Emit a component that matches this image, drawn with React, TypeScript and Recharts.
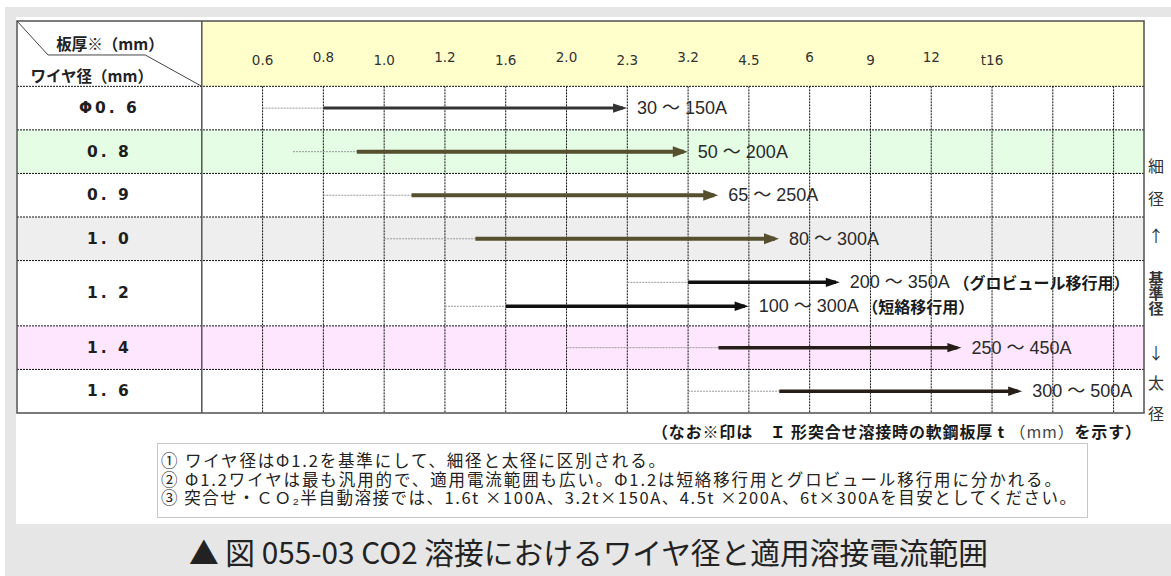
import React from 'react';
import { ComposedChart, Line, XAxis, YAxis, ReferenceArea, ReferenceLine, ReferenceDot } from 'recharts';

// ---- header: plate thickness (column index -> label) ----
const thicknessTicks = [1, 2, 3, 4, 5, 6, 7, 8, 9, 10, 11, 12, 13];
const thicknessLabels = ['0.6', '0.8', '1.0', '1.2', '1.6', '2.0', '2.3', '3.2', '4.5', '6', '9', '12', 't16'];
const gridColumns = [1, 2, 3, 4, 5, 6, 7, 8, 9, 10, 11, 12, 13, 14, 15];

// ---- rows: wire diameter ----
const wireDiameters = ['Φ0. 6', '0. 8', '0. 9', '1. 0', '1. 2', '1. 4', '1. 6'];
const rowTops = [0, 1, 2, 3, 4, 5.5, 6.5];
const rowBottoms = [1, 2, 3, 4, 5.5, 6.5, 7.5];
const rowFills = ['#ffffff', '#e4fde4', '#ffffff', '#eeeeee', '#ffffff', '#fee6fe', '#ffffff'];

// ---- arrows: applicable current ranges ----
const arrowRows = [0.5, 1.5, 2.5, 3.5, 4.5, 5.05, 6, 7];
const leadFrom = [1, 1.5, 2, 3, 7, 4, 6, 8];
const rangeFrom = [2, 2.55, 3.45, 4.5, 8, 5, 8.5, 9.5];
const rangeTo = [6.93, 7.93, 8.43, 9.43, 10.43, 8.93, 12.43, 13.43];
const currentRanges = ['30 ～ 150A', '50 ～ 200A', '65 ～ 250A', '80 ～ 300A', '200 ～ 350A', '100 ～ 300A', '250 ～ 450A', '300 ～ 500A'];
const transferModes = ['', '', '', '', '（グロビュール移行用）', '（短絡移行用）', '', ''];
const arrowColors = ['#333333', '#56502f', '#56502f', '#56502f', '#111111', '#111111', '#271f17', '#271f17'];
const arrowWidths = [3, 4, 4, 4, 3.5, 3.5, 3.5, 3.5];

// ---- header corner (diagonal divider) ----
const cornerX = [-3.04, -2.53, -0.93, 0];
const cornerY = [-1.5, -0.72, -0.72, 0];

const X_DOMAIN: [number, number] = [-3.04, 15.5];
const Y_DOMAIN: [number, number] = [-1.5, 7.5];

const CJK = '"Noto Sans CJK JP", sans-serif';
const LATIN = '"Liberation Sans", "Noto Sans CJK JP", sans-serif';

const cornerData = cornerX.map((x, i) => ({ x, y: cornerY[i] }));

function TickText(props: any) {
  const { cx, cy, label } = props;
  return (
    <text x={cx} y={cy} textAnchor="middle" dominantBaseline="central"
      fontFamily='"DejaVu Sans", sans-serif' fontSize={13.5} fill="#333">{label}</text>
  );
}

function ArrowEnd(props: any) {
  const { cx, cy, index, payload } = props;
  if (index !== 1 || cx == null || cy == null) return <g key={`e${index}`} />;
  const big = payload.w >= 4;
  const L = big ? 15 : 14;
  const h = big ? 5.5 : 4.7;
  return (
    <g key={`e${index}`}>
      <polygon points={`${cx + 4 - L},${cy - h} ${cx + 4},${cy} ${cx + 4 - L},${cy + h}`} fill={payload.color} />
      <text x={cx + 14} y={cy} dominantBaseline="central" fontFamily={LATIN} fontSize={18} fill="#2a2a2a">
        {payload.label}
        {payload.mode ? (
          <tspan fontFamily={CJK} fontWeight="bold" fontSize={16} fill="#1a1a1a">{' ' + payload.mode}</tspan>
        ) : null}
      </text>
    </g>
  );
}

function RowLabel(props: any) {
  const { cx, cy, label } = props;
  return (
    <text x={cx} y={cy} textAnchor="middle" dominantBaseline="central"
      fontFamily='"DejaVu Sans", sans-serif' fontWeight="bold" fontSize={15.5} letterSpacing={3} fill="#1e1e1e">{label}</text>
  );
}

function HeaderText(props: any) {
  const { cx, cy, label } = props;
  return (
    <text x={cx} y={cy} textAnchor="middle" dominantBaseline="central"
      fontFamily={CJK} fontWeight="bold" fontSize={15.5} fill="#222">{label}</text>
  );
}

const sideLabels = ['細', '径', '↑', '↓', '太', '径'];
const sideLabelY = [165, 198, 235, 352, 382, 413];

export default function App() {
  return (
    <div style={{ position: 'absolute', left: 0, top: 0, width: 1171, height: 576, background: '#ffffff', overflow: 'hidden' }}>
      <div style={{ position: 'absolute', left: 5, top: 7, width: 1166, height: 569, background: '#e6e6e6' }} />
      <div style={{ position: 'absolute', left: 16, top: 17, width: 1155, height: 507, background: '#ffffff' }} />
      <div style={{ position: 'absolute', left: 0, top: 0 }}>
        <ComposedChart width={1171} height={430} margin={{ top: 21, right: 27, bottom: 17, left: 17 }}>
          <XAxis type="number" dataKey="x" domain={X_DOMAIN} allowDataOverflow hide ticks={gridColumns} />
          <YAxis type="number" dataKey="y" domain={Y_DOMAIN} reversed hide allowDataOverflow />
          {/* row backgrounds */}
          {wireDiameters.map((w, i) => (
            <ReferenceArea key={'bg' + i} x1={X_DOMAIN[0]} x2={X_DOMAIN[1]} y1={rowTops[i]} y2={rowBottoms[i]}
              fill={rowFills[i]} fillOpacity={1} stroke="none" zIndex={10} />
          ))}
          <ReferenceArea x1={0} x2={X_DOMAIN[1]} y1={Y_DOMAIN[0]} y2={0} fill="#ffffcc" fillOpacity={1} stroke="none" zIndex={10} />
          {/* dotted grid */}
          {gridColumns.map((c) => (
            <ReferenceLine key={'v' + c} segment={[{ x: c, y: 0 }, { x: c, y: Y_DOMAIN[1] }]}
              stroke="#111" strokeWidth={1} strokeDasharray="2 1" zIndex={20} />
          ))}
          {rowTops.map((t, i) => (
            <ReferenceLine key={'h' + i} segment={[{ x: X_DOMAIN[0], y: t }, { x: X_DOMAIN[1], y: t }]}
              stroke="#111" strokeWidth={1} strokeDasharray="2 1" zIndex={20} />
          ))}
          <ReferenceLine x={0} stroke="#555" strokeWidth={1.5} zIndex={25} />
          <ReferenceArea x1={X_DOMAIN[0]} x2={X_DOMAIN[1]} y1={Y_DOMAIN[0]} y2={Y_DOMAIN[1]}
            fill="none" fillOpacity={0} stroke="#505050" strokeWidth={1.5} zIndex={25} />
          {/* header corner divider */}
          <Line data={cornerData} dataKey="y" type="linear" stroke="#444" strokeWidth={1} dot={false} activeDot={false}
            isAnimationActive={false} legendType="none" zIndex={30} />
          {/* lead-in thin lines */}
          {arrowRows.map((r, i) => (
            <Line key={'lead' + i} data={[{ x: leadFrom[i], y: r }, { x: rangeFrom[i], y: r }]} dataKey="y" type="linear"
              stroke="#9a9a9a" strokeWidth={1} strokeDasharray="2 1" dot={false} activeDot={false}
              isAnimationActive={false} legendType="none" zIndex={30} />
          ))}
          {/* current range arrows */}
          {arrowRows.map((r, i) => (
            <Line key={'arr' + i}
              data={[
                { x: rangeFrom[i], y: r, color: arrowColors[i], w: arrowWidths[i], label: currentRanges[i], mode: transferModes[i] },
                { x: rangeTo[i], y: r, color: arrowColors[i], w: arrowWidths[i], label: currentRanges[i], mode: transferModes[i] },
              ]}
              dataKey="y" type="linear" stroke={arrowColors[i]} strokeWidth={arrowWidths[i]} strokeLinecap="butt"
              dot={ArrowEnd} activeDot={false} isAnimationActive={false} legendType="none" zIndex={40} />
          ))}
          {/* header thickness labels */}
          {thicknessTicks.map((t, i) => (
            <ReferenceDot key={'tk' + t} x={t} y={i % 2 === 0 ? -0.615 : -0.675} r={0}
              shape={(p: any) => <TickText {...p} label={thicknessLabels[i]} />} zIndex={50} />
          ))}
          {/* row labels */}
          {wireDiameters.map((w, i) => (
            <ReferenceDot key={'rl' + i} x={X_DOMAIN[0] / 2} y={(rowTops[i] + rowBottoms[i]) / 2} r={0}
              shape={(p: any) => <RowLabel {...p} label={w} />} zIndex={50} />
          ))}
          <ReferenceDot x={-1.51} y={-0.99} r={0} shape={(p: any) => <HeaderText {...p} label="板厚※（mm）" />} zIndex={50} />
          <ReferenceDot x={-1.81} y={-0.25} r={0} shape={(p: any) => <HeaderText {...p} label="ワイヤ径（mm）" />} zIndex={50} />
        </ComposedChart>
      </div>
      <svg width={1171} height={576} style={{ position: 'absolute', left: 0, top: 0, pointerEvents: 'none' }}>
        {sideLabels.map((s, i) => (
          <text key={'s' + i} x={1156} y={sideLabelY[i]} textAnchor="middle" dominantBaseline="central"
            fontFamily={CJK} fontSize={16} fill="#333">{s}</text>
        ))}
        <text x={1156} y={270.5} style={{ writingMode: 'vertical-rl' }} fontFamily={CJK} fontSize={15} fontWeight="bold" fill="#333">
          基準径
        </text>
        <text x={1141} y={431} textAnchor="end" dominantBaseline="central" fontFamily={CJK} fontWeight="bold" fontSize={16} fill="#1a1a1a"
          textLength={489} lengthAdjust="spacing">
          （なお※印は　Ｉ 形突合せ溶接時の軟鋼板厚 t <tspan fontWeight="normal" fill="#444">（mm）</tspan>を示す）
        </text>
        <rect x={157.5} y={443.5} width={930} height={74} fill="#ffffff" stroke="#c8c8c8" strokeWidth={1} />
        <text x={161} y={460} dominantBaseline="central" fontFamily={CJK} fontSize={16.5} fill="#222"
          textLength={504} lengthAdjust="spacing">
          ① ワイヤ径はΦ1.2を基準にして、細径と太径に区別される。
        </text>
        <text x={161} y={478.5} dominantBaseline="central" fontFamily={CJK} fontSize={16.5} fill="#222"
          textLength={900} lengthAdjust="spacing">
          ② Φ1.2ワイヤは最も汎用的で、適用電流範囲も広い。Φ1.2は短絡移行用とグロビュール移行用に分かれる。
        </text>
        <text x={161} y={497} dominantBaseline="central" fontFamily={CJK} fontSize={16.5} fill="#222"
          textLength={915} lengthAdjust="spacing">
          ③ 突合せ・ＣＯ₂半自動溶接では、1.6t ×100A、3.2t×150A、4.5t ×200A、6t×300Aを目安としてください。
        </text>
        <text x={189} y={564} fontFamily={CJK} fontSize={30} fill="#222" textLength={799} lengthAdjust="spacingAndGlyphs">
          ▲ 図 055-03 CO2 溶接におけるワイヤ径と適用溶接電流範囲
        </text>
      </svg>
    </div>
  );
}
